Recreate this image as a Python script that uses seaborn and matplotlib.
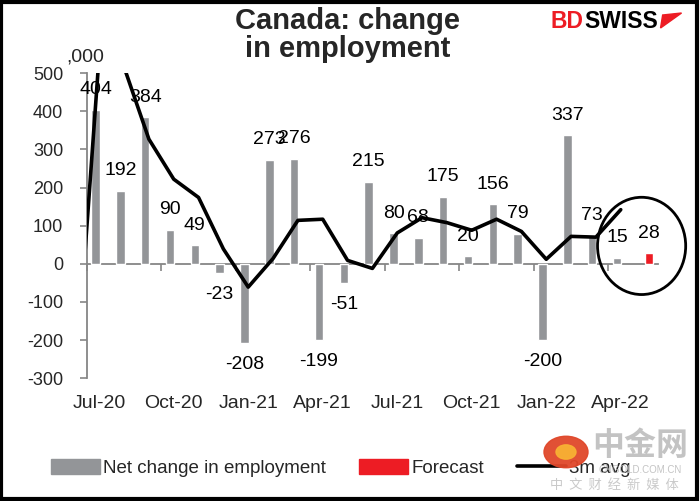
import matplotlib
matplotlib.use('Agg')
import matplotlib.pyplot as plt
from matplotlib.patches import Patch, Ellipse, Rectangle, Circle, Polygon
from matplotlib.lines import Line2D
import numpy as np
import seaborn as sns

# дані (тис. робочих місць)
months = ['Jul-20', 'Aug-20', 'Sep-20', 'Oct-20', 'Nov-20', 'Dec-20',
          'Jan-21', 'Feb-21', 'Mar-21', 'Apr-21', 'May-21', 'Jun-21',
          'Jul-21', 'Aug-21', 'Sep-21', 'Oct-21', 'Nov-21', 'Dec-21',
          'Jan-22', 'Feb-22', 'Mar-22', 'Apr-22', 'May-22']
net_change = [404, 192, 384, 90, 49, -23, -208, 273, 276, -199, -51, 215,
              80, 68, 175, 20, 156, 79, -200, 337, 73, 15]
forecast_months = ['May-22']
forecast = [28]
avg_months = ['Jun-20'] + months[:-1]
avg_3m = [-359, 549, 516, 327, 222, 174, 39, -61, 14, 114, 117, 9, -12,
          81, 121, 108, 88, 117, 85, 12, 72, 70, 142]
tick_labels = ['Jul-20', 'Oct-20', 'Jan-21', 'Apr-21', 'Jul-21', 'Oct-21', 'Jan-22', 'Apr-22']
y_ticks = [-300, -200, -100, 0, 100, 200, 300, 400, 500]

GRAY = '#939598'
RED = '#ed1c24'
AXIS = '#868686'

sns.set_style('white')
plt.rcParams['font.family'] = ['Liberation Sans', 'DejaVu Sans']

pos = {m: i for i, m in enumerate(months)}
pos['Jun-20'] = -1
x_net = np.array([pos[m] for m in months[:len(net_change)]])
x_fc = np.array([pos[m] for m in forecast_months])
x_avg = np.array([pos[m] for m in avg_months])

fig = plt.figure(figsize=(7, 5.01), dpi=100)
ax = fig.add_axes([0.124, 0.245, 0.816, 0.609])

sns.barplot(x=x_net - 0.15, y=net_change, native_scale=True, width=0.34,
            color=GRAY, saturation=1, errorbar=None, orient='x', ax=ax)
sns.barplot(x=x_fc + 0.14, y=forecast, native_scale=True, width=0.3,
            color=RED, saturation=1, errorbar=None, orient='x', ax=ax)
sns.lineplot(x=x_avg, y=avg_3m, color='black', lw=2.6, ax=ax, zorder=5)

# підписи значень
for x, v in list(zip(x_net - 0.15, net_change)) + list(zip(x_fc + 0.14, forecast)):
    off = 14.5 if v >= 0 else -15.5
    ax.annotate(str(v), (x, v), xytext=(0, off), textcoords='offset points',
                ha='center', va='center', fontsize=14, color='black', zorder=6)

ax.set_xlim(-0.5, len(months) - 0.5)
ax.set_ylim(-300, 500)
ax.set_yticks(y_ticks)
ax.set_yticklabels([str(t) for t in y_ticks], fontsize=13)
ax.set_xticks([pos[t] for t in tick_labels])
ax.set_xticklabels(tick_labels, fontsize=14)
ax.tick_params(axis='x', length=0, pad=12)
ax.tick_params(axis='y', length=5, width=1.2, color=AXIS, direction='out', pad=12, left=True)
ax.set_xlabel('')
ax.set_ylabel('')
for s in ['top', 'right', 'bottom']:
    ax.spines[s].set_visible(False)
ax.spines['left'].set_color(AXIS)
ax.spines['left'].set_linewidth(1.3)

# нульова лінія з рисками між кварталами
zero = ax.secondary_xaxis((0 - (-300)) / 800)
zero.set_xticks(np.arange(-0.5, len(months) - 1, 3))
zero.set_xticklabels([])
zero.tick_params(length=5, width=1.2, color=AXIS, direction='out')
zero.spines['bottom'].set_color(AXIS)
zero.spines['bottom'].set_linewidth(1.3)

ax.text(-0.55, 520, ',000', fontsize=14, ha='center', va='bottom', clip_on=False)

ax.add_patch(Ellipse((21.84, 47), 3.55, 255, fill=False, ec='black', lw=2, clip_on=False, zorder=7))

# заголовок
fig.text(0.496, 1 - 7 / 501, 'Canada: change\nin employment', ha='center', va='top',
         fontsize=21, fontweight='bold', linespacing=1.02)

# логотип
r = fig.canvas.get_renderer()
t1 = fig.text(551 / 700, 1 - 21 / 501, 'BD', color=RED, fontsize=16.5, fontweight='bold', va='center')
bb = t1.get_window_extent(r)
t2 = fig.text(bb.x1 / 700, 1 - 21 / 501, 'SWISS', color='black', fontsize=16.5, fontweight='bold', va='center')
bb2 = t2.get_window_extent(r)
x0 = bb2.x1 / 700 + 0.004
fig.patches.append(Polygon([[x0, 1 - 28 / 501], [x0 + 0.03, 1 - 13 / 501], [x0 + 0.003, 1 - 15 / 501]],
                           closed=True, color=RED, transform=fig.transFigure))

# легенда
handles = [Patch(color=GRAY, label='Net change in employment'),
           Patch(color=RED, label='Forecast'),
           Line2D([], [], color='black', lw=2.6, label='3m avg')]
fig.legend(handles=handles, loc='center', bbox_to_anchor=(0.487, 1 - 468 / 501), ncol=3,
           frameon=False, fontsize=13.5, handlelength=2.6, handleheight=0.8,
           handletextpad=0.15, columnspacing=1.8)

# водяний знак
fig.patches.append(Circle((566 / 700, 1 - 452 / 501), 22 / 700, transform=fig.transFigure,
                          color='#e0472a', alpha=0.95, zorder=10))
fig.patches.append(Circle((566 / 700, 1 - 452 / 501), 10 / 700, transform=fig.transFigure,
                          color='#f8b133', alpha=0.95, zorder=11))
cjk = ['Noto Sans CJK SC', 'DejaVu Sans']
fig.text(640 / 700, 1 - 446 / 501, '中金网', family=cjk, fontsize=23, fontweight='bold',
         color='#bdbdbd', ha='center', va='center', alpha=0.9, zorder=12)
fig.text(640 / 700, 1 - 470 / 501, 'CNGOLD.COM.CN', fontsize=7, color='#bdbdbd',
         ha='center', va='center', alpha=0.9, zorder=12)
fig.text(614 / 700, 1 - 485 / 501, '中  文  财  经  新  媒  体', family=cjk, fontsize=9.5,
         color='#c4c4c4', ha='center', va='center', alpha=0.9, zorder=12)

# рамка
fig.patches.append(Rectangle((0.002, 0.003), 0.993, 0.994, transform=fig.transFigure,
                             fill=False, ec='black', lw=3))

fig.savefig('out.png', dpi=100)
